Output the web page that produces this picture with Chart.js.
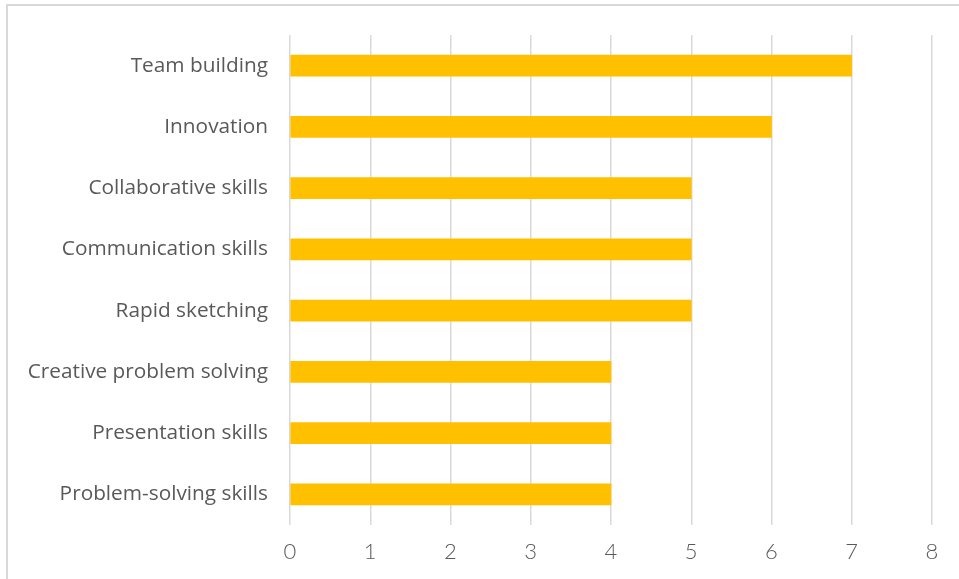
<!DOCTYPE html>
<html>
<head>
<meta charset="utf-8">
<script src="https://cdn.jsdelivr.net/npm/chart.js@4"></script>
<style>
  html, body { margin: 0; padding: 0; background: #fff; overflow: hidden; }
  #frame { position: absolute; left: 6px; top: 4px; width: 1000px; height: 1000px; border: 2px solid #d9d9d9; }
  #wrap { position: absolute; left: 0; top: 0; width: 959px; height: 579px; }
</style>
</head>
<body>
<div id="frame"></div>
<div id="wrap"><canvas id="grafico"></canvas></div>
<script>
const categorias = [
  'Team building',
  'Innovation',
  'Collaborative skills',
  'Communication skills',
  'Rapid sketching',
  'Creative problem solving',
  'Presentation skills',
  'Problem-solving skills'
];
const valores = [7, 6, 5, 5, 5, 4, 4, 4];
const ticksX = [0, 1, 2, 3, 4, 5, 6, 7, 8];

window.onload = function() {
  const ctx = document.getElementById('grafico').getContext('2d');
  new Chart(ctx, {
    type: 'bar',
    data: {
      labels: categorias,
      datasets: [{
        data: valores,
        backgroundColor: '#FFC000',
        barThickness: 21
      }]
    },
    options: {
      indexAxis: 'y',
      responsive: true,
      maintainAspectRatio: false,
      animation: false,
      layout: { padding: { top: 35, right: 27, bottom: 0, left: 0 } },
      plugins: { legend: { display: false }, tooltip: { enabled: false } },
      scales: {
        x: {
          min: ticksX[0],
          max: ticksX[ticksX.length - 1],
          afterBuildTicks: function(scale) { scale.ticks = ticksX.map(v => ({ value: v })); },
          afterFit: function(scale) { scale.height = 54; },
          grid: { color: '#d9d9d9', lineWidth: 1.5, drawTicks: false },
          border: { display: false },
          ticks: { padding: 14, color: '#595959', font: { family: 'Lato', size: 22, weight: 300 } }
        },
        y: {
          afterFit: function(scale) { scale.width = 290; },
          grid: { display: false },
          border: { display: false },
          ticks: { padding: 14, color: '#595959', font: { family: 'Open Sans', size: 20.8 } }
        }
      }
    }
  });
};
</script>
</body>
</html>
